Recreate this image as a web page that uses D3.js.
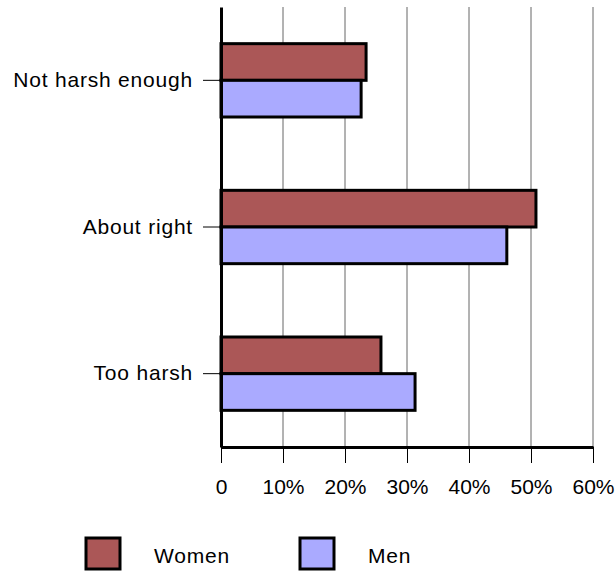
<!DOCTYPE html>
<html lang="en">
<head>
  <meta charset="utf-8">
  <script src="https://d3js.org/d3.v7.min.js"></script>
  <style>
    body { margin: 0; background: #fff; }
    text { font-family: "Liberation Sans", Arial, sans-serif; font-size: 21px; fill: #000; }
  </style>
</head>
<body>
<div id="chart"></div>
<script>
  // data (percent)
  const categories = ["Not harsh enough", "About right", "Too harsh"];
  const women = [23.4, 50.8, 25.8];
  const men = [22.6, 46.1, 31.3];
  const tickValues = [0, 10, 20, 30, 40, 50, 60];
  const tickLabels = ["0", "10%", "20%", "30%", "40%", "50%", "60%"];
  const seriesNames = ["Women", "Men"];
  const seriesColors = ["#ab5757", "#aaaaff"];

  const width = 616, height = 571;
  const plotLeft = 221, plotRight = 593, plotTop = 7, plotBottom = 447;

  const svg = d3.select("#chart").append("svg")
    .attr("width", width)
    .attr("height", height);

  const x = d3.scaleLinear().domain([0, 60]).range([plotLeft, plotRight]);
  const y = d3.scaleBand().domain(categories).range([plotTop, plotBottom])
    .paddingInner(0.5).paddingOuter(0.25);
  const sub = d3.scaleBand().domain(seriesNames).range([0, y.bandwidth()]);

  // vertical gridlines
  svg.append("g").selectAll("line")
    .data(tickValues.slice(1))
    .join("line")
    .attr("x1", d => x(d)).attr("x2", d => x(d))
    .attr("y1", plotTop).attr("y2", plotBottom)
    .attr("stroke", "#666").attr("stroke-width", 1);

  // bars
  const rows = categories.map((c, i) => ({ cat: c, vals: [women[i], men[i]] }));
  const g = svg.append("g").selectAll("g")
    .data(rows)
    .join("g")
    .attr("transform", d => `translate(0,${y(d.cat)})`);
  g.selectAll("rect")
    .data(d => d.vals.map((v, j) => ({ v: v, s: seriesNames[j], c: seriesColors[j] })))
    .join("rect")
    .attr("x", x(0))
    .attr("y", d => sub(d.s))
    .attr("width", d => x(d.v) - x(0))
    .attr("height", sub.bandwidth())
    .attr("fill", d => d.c)
    .attr("stroke", "#000")
    .attr("stroke-width", 3);

  // bottom axis
  const xAxis = svg.append("g")
    .attr("transform", `translate(0,${plotBottom})`)
    .call(d3.axisBottom(x).tickValues(tickValues)
      .tickFormat((d, i) => tickLabels[i]).tickSize(16).tickPadding(16).tickSizeOuter(0));
  xAxis.select(".domain").attr("stroke-width", 3);
  xAxis.selectAll(".tick line").attr("stroke-width", 1);
  xAxis.selectAll("text").style("font-size", "21px").attr("font-family", null);

  // left axis
  const yAxis = svg.append("g")
    .attr("transform", `translate(${plotLeft},0)`)
    .call(d3.axisLeft(y).tickSize(18).tickPadding(10).tickSizeOuter(0));
  yAxis.select(".domain").attr("stroke-width", 3);
  yAxis.selectAll(".tick line").attr("stroke-width", 1);
  yAxis.selectAll("text").style("font-size", "21px").style("letter-spacing", "0.8px")
    .attr("font-family", null);

  // legend
  const legendX = [86, 300];
  const leg = svg.append("g").selectAll("g")
    .data(seriesNames)
    .join("g")
    .attr("transform", (d, i) => `translate(${legendX[i]},538)`);
  leg.append("rect")
    .attr("width", 34).attr("height", 31)
    .attr("fill", (d, i) => seriesColors[i])
    .attr("stroke", "#000").attr("stroke-width", 3);
  leg.append("text")
    .attr("x", 68).attr("y", 25)
    .style("letter-spacing", "0.8px")
    .text(d => d);
</script>
</body>
</html>
